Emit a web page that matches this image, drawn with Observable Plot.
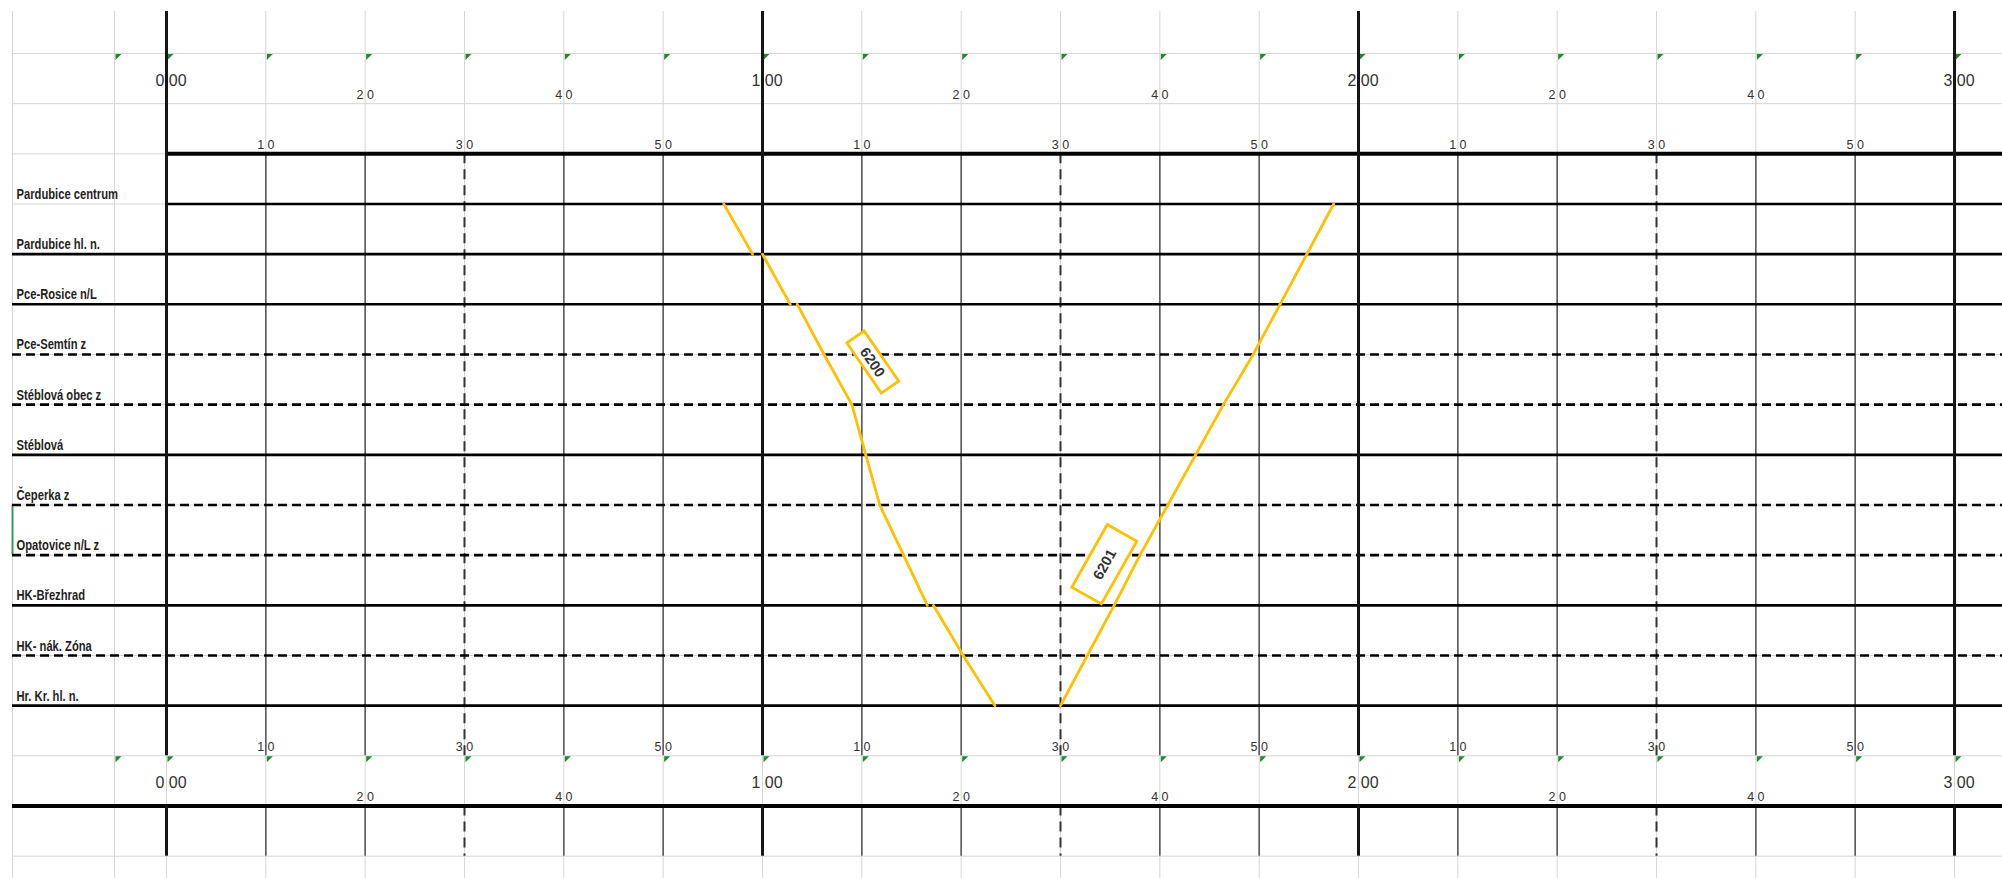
<!DOCTYPE html>
<html>
<head>
<meta charset="utf-8">
<script src="https://cdn.jsdelivr.net/npm/d3@7"></script>
<script src="https://cdn.jsdelivr.net/npm/@observablehq/plot@0.6"></script>
<style>
  html, body { margin: 0; padding: 0; background: #fff; overflow: hidden; }
  #chart svg { display: block; }
</style>
</head>
<body>
<div id="chart"></div>
<script>
// ---------------- DATA ----------------
const stations = [
  "Pardubice centrum", "Pardubice hl. n.", "Pce-Rosice n/L", "Pce-Semtín z",
  "Stéblová obec z", "Stéblová", "Čeperka z", "Opatovice n/L z",
  "HK-Březhrad", "HK- nák. Zóna", "Hr. Kr. hl. n."
];
// "stanice" = station (solid line), "zastávka" = halt (dashed line)
const stationKinds = [
  "stanice", "stanice", "stanice", "zastávka", "zastávka", "stanice",
  "zastávka", "zastávka", "stanice", "zastávka", "stanice"
];

// time axis (minutes after 0:00)
const hourTicks = [0, 60, 120, 180];
const hourLabels = ["0 00", "1 00", "2 00", "3 00"];
const evenMinuteTicks = [20, 40, 80, 100, 140, 160];
const evenMinuteLabels = ["2 0", "4 0", "2 0", "4 0", "2 0", "4 0"];
const oddMinuteTicks = [10, 30, 50, 70, 90, 110, 130, 150, 170];
const oddMinuteLabels = ["1 0", "3 0", "5 0", "1 0", "3 0", "5 0", "1 0", "3 0", "5 0"];

// train 6200: Pardubice centrum -> Hr. Kr. hl. n.
const train6200Stations = [0, 1, 2, 3, 4, 5, 6, 7, 8, 9, 10];
const train6200Arrivals = [56.1, 59.0, 62.8, 66.2, 69.0, 70.4, 71.8, 74.2, 76.6, 80.2, 83.4];
const train6200Departures = [56.1, 60.0, 63.5, 66.2, 69.0, 70.4, 71.8, 74.2, 77.2, 80.2, 83.4];

// train 6201: Hr. Kr. hl. n. -> Pardubice centrum
const train6201Stations = [10, 9, 8, 7, 6, 5, 4, 3, 2, 1, 0];
const train6201Times = [90.0, 92.7, 95.4, 98.0, 100.8, 103.6, 106.4, 109.4, 112.1, 114.8, 117.5];

const trainNumbers = ["6200", "6201"];

// ---------------- LAYOUT ----------------
const W = 2002, H = 878;
const X_DOMAIN = [-16.71, 184.83];     // minutes at the left / right edge of the sheet
const Y_DOMAIN = [-3.056, 14.445];     // spreadsheet rows (station i sits on row i+1)
const COL_EDGES = [-15.5, -5.235];     // borders of the label columns
const GRID_TOP = -2.836;
const YELLOW = "#ffc000";
const GRID = "#d6d6d6";
const LABEL_FONT = "'Liberation Sans', Arial, sans-serif";
const TICK_FONT = "'Liberation Sans', Arial, sans-serif";
const LABEL_CONDENSE = 0.8;

const labelSpots = [
  {train: trainNumbers[0], t: 71.15, row: 4.16, angle: 55.5, w: 61, h: 21},
  {train: trainNumbers[1], t: 94.46, row: 8.19, angle: -60.5, w: 72, h: 34}
];

// derived
const allTens = d3.range(0, 181, 10);
const halfHours = allTens.filter(t => t % 60 === 30);
const minorTens = allTens.filter(t => t % 30 !== 0);
const gridX = [...COL_EDGES, ...allTens];
const gridRows = d3.range(-2, 15);
const triangleX = [COL_EDGES[1], ...allTens];
const stationRows = stations.map((s, i) => ({name: s, kind: stationKinds[i], row: i + 1, first: i === 0}));

const segs = [];
for (let i = 0; i < train6200Stations.length - 1; i++) {
  segs.push({train: trainNumbers[0],
    t1: train6200Departures[i], r1: train6200Stations[i] + 1,
    t2: train6200Arrivals[i + 1], r2: train6200Stations[i + 1] + 1});
}
for (let i = 0; i < train6201Stations.length - 1; i++) {
  segs.push({train: trainNumbers[1],
    t1: train6201Times[i], r1: train6201Stations[i] + 1,
    t2: train6201Times[i + 1], r2: train6201Stations[i + 1] + 1});
}

const excelTriangle = {
  draw(ctx) { ctx.moveTo(1, 0.5); ctx.lineTo(7, 0.5); ctx.lineTo(1, 6.5); ctx.closePath(); }
};

function trainLabelMark(index, scales) {
  const g = d3.create("svg:g").attr("class", "train-labels");
  for (const s of labelSpots) {
    const gg = g.append("g")
      .attr("transform", `translate(${scales.x(s.t)},${scales.y(s.row)}) rotate(${s.angle})`);
    gg.append("rect")
      .attr("x", -s.w / 2).attr("y", -s.h / 2).attr("width", s.w).attr("height", s.h)
      .attr("fill", "white").attr("stroke", YELLOW).attr("stroke-width", 2.8);
    gg.append("text")
      .attr("text-anchor", "middle").attr("dy", "0.36em")
      .attr("font-family", TICK_FONT).attr("font-weight", "bold")
      .attr("font-size", 14.5).attr("fill", "#333")
      .text(s.train);
  }
  return g.node();
}

const xMax = X_DOMAIN[1];
const solid = stationRows.filter(d => d.kind === "stanice");
const dashed = stationRows.filter(d => d.kind === "zastávka");

const chart = Plot.plot({
  width: W, height: H, margin: 0,
  x: {type: "linear", domain: X_DOMAIN, range: [0, W], axis: null},
  y: {type: "linear", domain: Y_DOMAIN, range: [0, H], axis: null},
  style: {background: "white", fontFamily: TICK_FONT},
  marks: [
    // spreadsheet gridlines
    Plot.ruleX(gridX, {y1: GRID_TOP, y2: Y_DOMAIN[1], stroke: GRID, strokeWidth: 1}),
    Plot.ruleY(gridRows, {x1: COL_EDGES[0], x2: xMax, stroke: GRID, strokeWidth: 1}),
    // selected-cell edge
    Plot.ruleX([COL_EDGES[0]], {y1: 7, y2: 8, stroke: "#3f9a5a", strokeWidth: 2}),
    // green "number as text" markers
    Plot.dot(triangleX, {x: d => d, y: -2, symbol: excelTriangle, fill: "#1e8a2e", stroke: "none"}),
    Plot.dot(triangleX, {x: d => d, y: 12, symbol: excelTriangle, fill: "#1e8a2e", stroke: "none"}),
    // minor 10-minute lines
    Plot.ruleX(minorTens, {y1: 0, y2: 12, stroke: "#5a5a5a", strokeWidth: 1.6}),
    Plot.ruleX(minorTens, {y1: 13, y2: 14, stroke: "#5a5a5a", strokeWidth: 1.6}),
    // half-hour dashed lines
    Plot.ruleX(halfHours, {y1: 0, y2: 12, stroke: "#333", strokeWidth: 2, strokeDasharray: "10,6"}),
    Plot.ruleX(halfHours, {y1: 13, y2: 14, stroke: "#333", strokeWidth: 2, strokeDasharray: "10,6"}),
    // station lines
    Plot.ruleY(solid, {y: "row", x1: d => d.first ? 0 : COL_EDGES[0], x2: xMax, stroke: "#000", strokeWidth: 2.6}),
    Plot.ruleY(dashed, {y: "row", x1: COL_EDGES[0], x2: xMax, stroke: "#000", strokeWidth: 2.6, strokeDasharray: "9,5"}),
    // frame lines
    Plot.ruleY([0], {x1: 0, x2: xMax, stroke: "#000", strokeWidth: 4}),
    Plot.ruleY([13], {x1: COL_EDGES[0], x2: xMax, stroke: "#000", strokeWidth: 4}),
    // hour lines
    Plot.ruleX(hourTicks, {y1: GRID_TOP, y2: 12, stroke: "#151515", strokeWidth: 3}),
    Plot.ruleX(hourTicks, {y1: 13, y2: 14, stroke: "#151515", strokeWidth: 3}),
    // station names
    Plot.text(stationRows, {x: COL_EDGES[0], y: "row", text: "name", dx: 4, dy: -5,
      textAnchor: "start", lineAnchor: "bottom", fontFamily: LABEL_FONT,
      fontWeight: "bold", fontSize: 14, fill: "#1f1f1f"}),
    // top time labels
    Plot.text(hourTicks, {x: d => d, y: -1, text: (d, i) => hourLabels[i], dx: 4.5, dy: -18,
      lineAnchor: "bottom", fontSize: 16, fill: "#333"}),
    Plot.text(evenMinuteTicks, {x: d => d, y: -1, text: (d, i) => evenMinuteLabels[i], dy: -5,
      lineAnchor: "bottom", fontSize: 12.5, fill: "#333"}),
    Plot.text(oddMinuteTicks, {x: d => d, y: 0, text: (d, i) => oddMinuteLabels[i], dy: -5,
      lineAnchor: "bottom", fontSize: 12.5, fill: "#333"}),
    // bottom time labels
    Plot.text(oddMinuteTicks, {x: d => d, y: 12, text: (d, i) => oddMinuteLabels[i], dy: -5,
      lineAnchor: "bottom", fontSize: 12.5, fill: "#333"}),
    Plot.text(hourTicks, {x: d => d, y: 13, text: (d, i) => hourLabels[i], dx: 4.5, dy: -18,
      lineAnchor: "bottom", fontSize: 16, fill: "#333"}),
    Plot.text(evenMinuteTicks, {x: d => d, y: 13, text: (d, i) => evenMinuteLabels[i], dy: -5,
      lineAnchor: "bottom", fontSize: 12.5, fill: "#333"}),
    // train paths
    Plot.link(segs, {x1: "t1", y1: "r1", x2: "t2", y2: "r2", stroke: YELLOW,
      strokeWidth: 2.8, strokeLinecap: "round"}),
    // train number boxes
    trainLabelMark
  ]
});

document.getElementById("chart").appendChild(chart);

// condense the station names like the spreadsheet's narrow font
chart.querySelectorAll("text").forEach(el => {
  if (!stations.includes(el.textContent)) return;
  const len = el.getComputedTextLength();
  if (len > 0) {
    el.setAttribute("textLength", (len * LABEL_CONDENSE).toFixed(1));
    el.setAttribute("lengthAdjust", "spacingAndGlyphs");
  }
});
</script>
</body>
</html>
